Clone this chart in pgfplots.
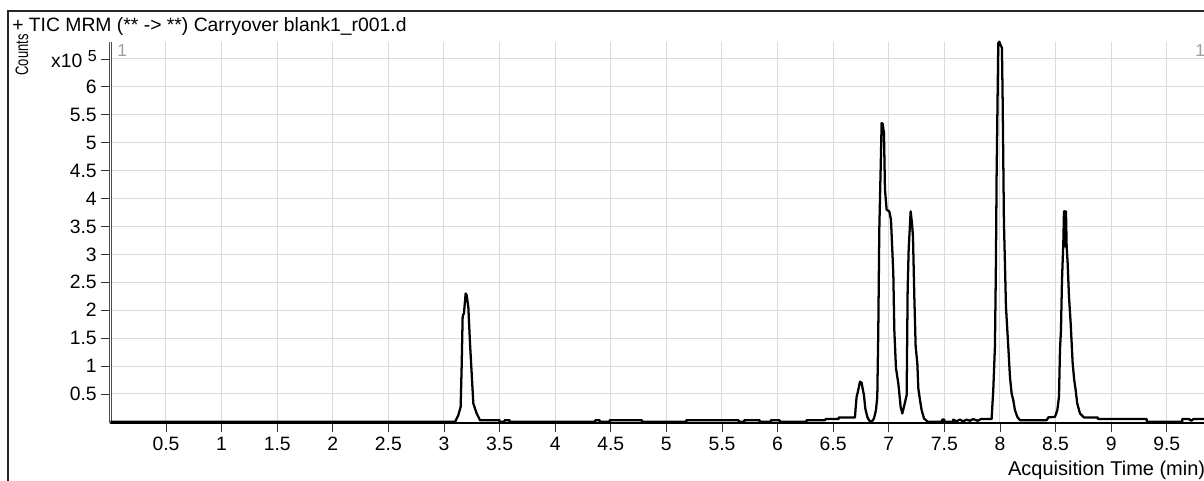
\documentclass[border=0pt]{standalone}
\usepackage{fontspec}
\setmainfont{Liberation Sans}
\usepackage{pgfplots}
\pgfplotsset{compat=1.18}
\newcommand{\lab}{\fontsize{14.5}{16}\selectfont}
\begin{document}
\begin{tikzpicture}
\path[use as bounding box] (0,0) rectangle (903pt,360.75pt);
\clip (0,0) rectangle (903pt,360.75pt);
\begin{axis}[
  at={(82.8pt,43.3pt)}, anchor=south west,
  scale only axis, width=823.1pt, height=286.2pt,
  xmin=0, xmax=9.87, ymin=-0.025, ymax=6.81,
  axis lines*=left,
  x axis line style={line width=1.5pt, black},
  y axis line style={draw=black!70, line width=0.6pt, double=white, double distance=1.3pt},
  tick align=outside, major tick length=6.75pt,
  tick style={black!80, line width=0.6pt},
  xtick={0.5,1,1.5,2,2.5,3,3.5,4,4.5,5,5.5,6,6.5,7,7.5,8,8.5,9,9.5},
  xticklabels={0.5,1,1.5,2,2.5,3,3.5,4,4.5,5,5.5,6,6.5,7,7.5,8,8.5,9,9.5},
  ytick={0.5,1,1.5,2,2.5,3,3.5,4,4.5,5,5.5,6,6.5},
  yticklabels={0.5,1,1.5,2,2.5,3,3.5,4,4.5,5,5.5,6,{x10\ \raisebox{0.6ex}{\fontsize{12}{12}\selectfont 5}}},
  tick label style={font=\lab},
  grid=major, grid style={gray!28, line width=0.75pt},
  xlabel={Acquisition Time (min)},
  xlabel style={font=\fontsize{15}{16}\selectfont, at={(axis description cs:1,0)}, anchor=north east, yshift=-25pt, xshift=1.5pt},
  clip=false,
]
\addplot[black, line width=1.7pt, line join=round] coordinates {
(0,0)(3.10,0)(3.129,0.12)(3.150,0.27)(3.159,0.99)(3.168,1.89)(3.180,1.95)(3.195,2.30)(3.204,2.27)(3.219,2.06)(3.234,1.41)(3.249,0.87)(3.264,0.33)(3.294,0.15)(3.324,0.03)(3.50,0.03)(3.50,0)(3.545,0)(3.545,0.03)(3.59,0.03)(3.59,0)(4.36,0)(4.36,0.03)(4.40,0.03)(4.40,0)(4.49,0)(4.49,0.03)(4.78,0.03)(4.78,0)(5.18,0)(5.18,0.03)(5.65,0.03)(5.65,0)(5.70,0)(5.70,0.03)(5.84,0.03)(5.84,0)(5.94,0)(5.94,0.03)(6.02,0.03)(6.02,0)(6.26,0)(6.26,0.03)(6.43,0.03)(6.43,0.05)(6.55,0.05)(6.55,0.08)(6.696,0.08)(6.702,0.24)(6.711,0.45)(6.726,0.57)(6.741,0.72)(6.756,0.70)(6.765,0.60)(6.777,0.48)(6.789,0.24)(6.807,0.09)(6.825,0.02)(6.846,0)(6.867,0.06)(6.885,0.21)(6.897,0.45)(6.906,1.65)(6.915,3.44)(6.927,4.51)(6.936,5.35)(6.945,5.34)(6.957,5.17)(6.966,4.16)(6.981,3.80)(7.005,3.77)(7.020,3.62)(7.041,2.66)(7.050,1.65)(7.065,0.96)(7.086,0.69)(7.107,0.27)(7.122,0.15)(7.137,0.27)(7.161,0.48)(7.170,2.36)(7.179,3.08)(7.197,3.77)(7.209,3.56)(7.218,3.32)(7.230,2.24)(7.242,1.35)(7.257,1.05)(7.266,0.60)(7.281,0.39)(7.296,0.21)(7.317,0.06)(7.341,0.02)(7.35,0)(7.48,0)(7.48,0.04)(7.50,0.04)(7.50,0)(7.58,0)(7.58,0.04)(7.61,0.01)(7.64,0.04)(7.67,0.01)(7.70,0.04)(7.73,0.02)(7.76,0.05)(7.80,0.02)(7.83,0.05)(7.925,0.05)(7.940,0.57)(7.955,1.35)(7.964,2.84)(7.970,4.39)(7.979,5.83)(7.985,6.78)(7.994,6.81)(8.006,6.75)(8.018,6.70)(8.024,5.83)(8.036,3.56)(8.045,2.84)(8.054,2.07)(8.075,1.35)(8.090,0.81)(8.105,0.51)(8.120,0.39)(8.135,0.21)(8.156,0.09)(8.180,0.03)(8.420,0.03)(8.435,0.08)(8.495,0.09)(8.516,0.21)(8.531,0.45)(8.540,1.29)(8.549,1.65)(8.558,2.54)(8.570,3.20)(8.576,3.77)(8.585,3.77)(8.588,3.14)(8.594,3.77)(8.600,3.14)(8.609,2.84)(8.621,2.24)(8.636,1.77)(8.654,1.05)(8.668,0.75)(8.681,0.57)(8.695,0.33)(8.720,0.15)(8.755,0.08)(8.88,0.08)(8.88,0.05)(9.32,0.05)(9.32,0)(9.64,0)(9.64,0.05)(9.70,0.05)(9.72,0.02)(9.74,0.05)(9.87,0.05)
};
\end{axis}
\begin{scope}[x=0.75pt, y=-0.75pt, shift={(0,360.75pt)}]
\draw[line width=1.4pt, black!85] (8,495) -- (8,10.7) -- (1220,10.7);
\node[anchor=base west, inner sep=0, font=\lab] at (12,32) {+ TIC MRM (** -> **) Carryover blank1\_r001.d};
\node[rotate=90, inner sep=0, font=\fontsize{13.5}{15}\selectfont] at (22,55) {\scalebox{0.72}[1]{Counts}};
\node[anchor=north west, inner sep=0, text=gray!75, font=\fontsize{13}{14}\selectfont] at (117,44) {1};
\node[anchor=north west, inner sep=0, text=gray!75, font=\fontsize{13}{14}\selectfont] at (1195,44) {1};
\end{scope}
\end{tikzpicture}
\end{document}
